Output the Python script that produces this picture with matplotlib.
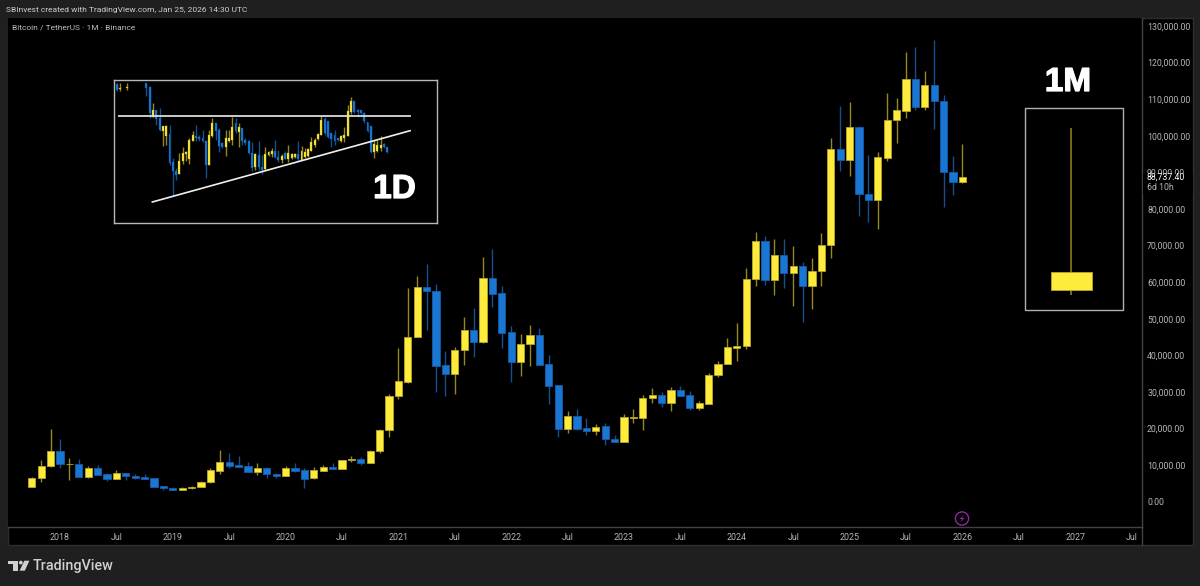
import numpy as np
import matplotlib
matplotlib.use('Agg')
import matplotlib.pyplot as plt
import matplotlib.patheffects as pe
from matplotlib.patches import Rectangle, Circle, Polygon

# BTC/USDT monthly candles, Oct 2017 -> Jan 2026
opens = [4100, 6380, 9760, 13760, 10210, 10390, 6750, 9300, 7480, 6200, 7840, 7020, 6650, 6380, 4200,
         3740, 3290, 3650, 4020, 5290, 8390, 10940, 9940, 9660, 8200, 9120, 7570,
         7115, 9210, 8570, 6380, 8480, 9480, 9030, 11300, 11750, 10660, 13760, 19680,
         28880, 32790, 45000, 58570, 57660, 37260, 34890, 41360, 47000, 43720, 61210, 56930,
         46270, 38260, 42990, 45540, 37620, 31790, 19770, 23320, 20130, 19220, 20590, 17220,
         16310, 22960, 22960, 28330, 29150, 26970, 30430, 29150, 25600, 26790, 34530, 37530,
         42090, 42450, 60850, 71230, 60480, 67400, 62480, 64390, 58840, 63030, 70040, 96270,
         93360, 102370, 84160, 82340, 93900, 104190, 106830, 115580, 107840, 113850, 109460, 90190,
         87280]
highs = [6650, 11400, 19770, 17130, 11850, 11660, 9750, 10030, 7750, 8660, 7930, 7480, 7660, 6560, 4290,
         4020, 4100, 4200, 5650, 9120, 14120, 13220, 12490, 10940, 10480, 9480, 7840,
         9660, 10570, 9210, 9400, 10030, 10480, 11480, 12490, 12120, 14030, 19860, 29330,
         41900, 58290, 61670, 64850, 59480, 41270, 42360, 50460, 52830, 66770, 68950, 58930,
         48000, 45820, 48180, 47450, 39990, 31790, 24780, 25330, 22870, 21140, 21500, 18310,
         24050, 25330, 29150, 30970, 29880, 31340, 31700, 30250, 27510, 35160, 38440, 44630,
         48820, 63850, 73600, 72690, 71860, 71770, 69950, 65490, 66490, 73410, 99370, 108200,
         109300, 102550, 94720, 95540, 111660, 110380, 122880, 124150, 117760, 126050, 111030, 94450,
         97730]
lows = [4100, 5480, 9570, 9200, 6020, 6750, 6570, 7300, 5750, 6110, 5930, 6200, 6200, 3930, 3290,
        3200, 3200, 3560, 3930, 5200, 7480, 9210, 9480, 8020, 7300, 6570, 6570,
        7020, 8200, 3830, 6290, 8290, 8930, 9030, 10760, 9940, 10660, 13300, 17590,
        28150, 32340, 45000, 46910, 30060, 28880, 29330, 37350, 39630, 43450, 53280, 41990,
        32790, 34340, 37080, 37440, 26780, 17590, 18770, 19680, 18130, 18220, 15580, 16310,
        16310, 21500, 19590, 26970, 25870, 24870, 28970, 25150, 24960, 26690, 34160, 37530,
        38530, 41810, 58930, 59210, 56560, 58380, 53470, 49100, 52560, 58930, 66670, 90440,
        89080, 78060, 76420, 74420, 93170, 98110, 104920, 107020, 107020, 101830, 80530, 83810,
        87190]
closes = [6570, 9850, 13760, 10300, 10390, 6750, 9300, 7300, 6200, 7840, 6930, 6475, 6200, 4020, 3650,
          3290, 3740, 4100, 5470, 8570, 10940, 9850, 9480, 8200, 9120, 7570, 7115,
          9210, 8390, 6200, 8570, 9480, 9030, 11390, 11660, 10660, 13940, 19680, 28970,
          32980, 45090, 58570, 57480, 37080, 34890, 41450, 47000, 43720, 61210, 56840, 46090,
          38260, 43180, 45540, 37440, 31610, 19860, 23320, 19950, 19220, 20500, 17040, 16310,
          23140, 23140, 28420, 29150, 26970, 30430, 28970, 25600, 26970, 34620, 37620, 42180,
          42540, 60940, 71230, 60480, 67400, 62480, 64390, 58840, 63120, 70130, 96270, 93450,
          102370, 83970, 82340, 94080, 104370, 106920, 115580, 107840, 113850, 109370, 90100, 87370,
          88737]

# the single candle in the "1M" box, same price scale
box_open, box_high, box_low, box_close = 57960, 102100, 56460, 62750

price_ticks = [0, 10000, 20000, 30000, 40000, 50000, 60000, 70000, 80000, 90000, 100000, 110000, 120000, 130000]
last_price = 88737.40
time_labels = ['2018', 'Jul', '2019', 'Jul', '2020', 'Jul', '2021', 'Jul', '2022', 'Jul', '2023', 'Jul',
               '2024', 'Jul', '2025', 'Jul', '2026', 'Jul', '2027', 'Jul']

# "1D" picture inside the box: heights above the box floor, no real axis to read
nan = float('nan')
d_open = [139, 134, nan, 135, nan, nan, nan, nan, nan, 140, 136, 106, 113, 105, 92, 87, 89, 61, 52, 49, 62, 69, 64, 82, 87, 86, 85, 82, 58, 87, 100, 93,
          80, 76, 82, 83, 100, 91, 95, 83, 82, 70, 56, 68, 56, 54, 68, 69, 72, 66, 63, 70, 64, 65, 66, 69, 63, 66, 67, 72, 78, 84, 88,
          104, 102, 90, 88, 85, 82, 85, 87, 111, 122, 113, 113, 110, 101, 97, 71, 72, 75, 79, 76]
d_high = [140, 140, nan, 140, nan, nan, nan, nan, nan, 140, 137, 120, 113, 115, 97, 98, 98, 65, 55, 70, 76, 72, 85, 92, 98, 88, 93, 83, 93, 105, 100, 95,
          81, 93, 93, 106, 105, 100, 95, 85, 83, 81, 70, 82, 68, 76, 72, 75, 83, 73, 69, 72, 78, 70, 70, 82, 77, 75, 75, 86, 85, 90, 107,
          106, 102, 90, 93, 85, 88, 96, 118, 126, 122, 114, 113, 111, 101, 97, 83, 83, 87, 80, 76]
d_low = [132, 132, nan, 133, nan, nan, nan, nan, nan, 127, 105, 106, 98, 92, 77, 78, 58, 27, 43, 49, 59, 62, 59, 82, 82, 82, 81, 45, 58, 86, 83, 71,
         75, 67, 81, 78, 90, 76, 78, 78, 69, 52, 53, 53, 49, 53, 67, 66, 65, 61, 60, 64, 61, 64, 65, 62, 63, 65, 66, 72, 76, 83, 88,
         88, 85, 76, 78, 82, 81, 81, 87, 109, 110, 106, 109, 100, 91, 70, 65, 71, 72, 75, 70]
d_close = [133, 135, nan, 136, nan, nan, nan, nan, nan, 135, 110, 113, 104, 93, 97, 97, 60, 52, 48, 62, 70, 71, 83, 88, 85, 84, 82, 58, 88, 100, 92, 77,
           76, 85, 85, 96, 92, 96, 82, 80, 70, 55, 69, 56, 53, 69, 71, 72, 66, 63, 67, 64, 70, 69, 69, 64, 72, 71, 74, 81, 83, 89, 103,
           90, 86, 84, 82, 83, 87, 88, 112, 122, 111, 111, 110, 102, 92, 71, 79, 78, 78, 76, 71]
# trendlines in the same inset units
res_x, res_y = [0.7, 88.9], [107, 107]
sup_x, sup_y = [10.8, 88.9], [21, 92.3]

W, H = 1200, 586
UP, DOWN = '#ffeb3b', '#1976d2'
UP_WICK, DOWN_WICK = '#96881f', '#14508f'
TXT = '#b6b6b6'

plt.rcParams['font.family'] = ['Roboto', 'DejaVu Sans']


def candles(axis, x, o, h, l, c, width, wick_lw, edge_lw):
    o, h, l, c = [np.array(v, dtype=float) for v in (o, h, l, c)]
    up = c >= o
    axis.vlines(x, l, h, colors=np.where(up, UP_WICK, DOWN_WICK), linewidth=wick_lw, zorder=2)
    axis.bar(x, c - o, bottom=o, width=width, color=np.where(up, UP, DOWN),
             edgecolor=np.where(up, '#b5a72c', '#155ca8'), linewidth=edge_lw, zorder=3)


def rect_px(x0, y0, x1, y1):
    # pixel box (top-left origin) to figure fractions
    return [x0 / W, 1 - y1 / H, (x1 - x0) / W, (y1 - y0) / H]


fig = plt.figure(figsize=(W / 100, H / 100), dpi=100, facecolor='#1f1f1f')

# background panel and frame
bg = fig.add_axes([0, 0, 1, 1], zorder=0)
bg.set_xlim(0, W)
bg.set_ylim(H, 0)
bg.axis('off')
bg.add_patch(Rectangle((7.5, 18), 1185.5, 527, facecolor='black', edgecolor='#2e2e2e', linewidth=1))
bg.plot([1141.5, 1141.5], [527, 545], color='#434343', linewidth=1)

# main chart, x in months from Jan 2018
ax = fig.add_axes(rect_px(8, 18, 1141.5, 526.5), zorder=1, facecolor='black')
months = np.arange(len(opens)) - 3
candles(ax, months, opens, highs, lows, closes, 0.78, 1.0, 0.6)
ax.set_xlim((8 - 60) / 9.4, (1141.5 - 60) / 9.4)
ax.set_ylim(-(526.5 - 501.7) / 36.6 * 10000, (501.7 - 18) / 36.6 * 10000)

ax.set_xticks(np.arange(len(time_labels)) * 6)
ax.set_xticklabels(time_labels)
ax.yaxis.tick_right()
ax.set_yticks(price_ticks)
ax.set_yticklabels([f'{v:,.2f}' for v in price_ticks])
ax.tick_params(axis='x', length=0, colors=TXT, labelsize=6.4, pad=4.6)
ax.tick_params(axis='y', length=0, colors=TXT, labelsize=6.3, pad=4.0)
for side in ('top', 'left'):
    ax.spines[side].set_visible(False)
for side in ('right', 'bottom'):
    ax.spines[side].set_color('#434343')
    ax.spines[side].set_linewidth(1)

# last price tag sits on top of the 90,000 label
trans = ax.get_yaxis_transform()
ax.add_patch(Rectangle((1.0012, last_price + 900), 0.044, -5500, transform=trans, facecolor='black',
                       edgecolor='none', clip_on=False, zorder=6))
ax.text(1.0047, last_price, f'{last_price:,.2f}', transform=trans, color='#ffffff', fontsize=6.3,
        va='center', ha='left', clip_on=False, zorder=7)
ax.text(1.0047, last_price - 2800, '6d 10h', transform=trans, color=TXT, fontsize=6.3,
        va='center', ha='left', clip_on=False, zorder=7)

# 1M box with the one big candle
ax.add_patch(Rectangle((102.7, 52510), 10.4, 55190, facecolor='black', edgecolor='#b0b0b0', linewidth=1, zorder=2))
candles(ax, [107.6], [box_open], [box_high], [box_low], [box_close], 4.36, 1.1, 0.6)

# 1D inset
ins = fig.add_axes(rect_px(114, 80, 437, 223), zorder=2, facecolor='black')
candles(ins, np.arange(len(d_open)), d_open, d_high, d_low, d_close, 0.55, 1.0, 0.2)
ins.plot(res_x, res_y, color='#dcdcdc', linewidth=1.3, zorder=4)
ins.plot(sup_x, sup_y, color='#f0f0f0', linewidth=1.2, zorder=4)
ins.set_xlim(-0.82, 97.06)
ins.set_ylim(0, 143)
ins.set_xticks([])
ins.set_yticks([])
for s in ins.spines.values():
    s.set_color('#b8b8b8')
    s.set_linewidth(1)

# texts and logo on top, pixel coords
fg = fig.add_axes([0, 0, 1, 1], zorder=3)
fg.set_xlim(0, W)
fg.set_ylim(H, 0)
fg.axis('off')
fg.patch.set_alpha(0)
fg.text(6.5, 10, 'SBInvest created with TradingView.com, Jan 25, 2026 14:30 UTC', color='#cfcfcf',
        fontsize=6.05, va='center', ha='left')
fg.text(12, 28, 'Bitcoin / TetherUS · 1M · Binance', color='#bdbdbd', fontsize=6.05, va='center', ha='left')
thick = [pe.withStroke(linewidth=0.9, foreground='white')]
fg.text(1068, 82.5, '1M', color='white', fontsize=24, fontweight='bold', family='Liberation Sans',
        va='center', ha='center', path_effects=thick)
fg.text(394.5, 189.5, '1D', color='white', fontsize=24, fontweight='bold', family='Liberation Sans',
        va='center', ha='center', path_effects=thick)

# lightning marker
fg.add_patch(Circle((962, 518.5), 6.6, facecolor='none', edgecolor='#8e2aa0', linewidth=1))
fg.add_patch(Polygon([(964, 514.5), (959.5, 519), (962, 519), (960, 522.5), (964.5, 518), (962, 518)],
                     facecolor='#8e2aa0', edgecolor='none'))

# TradingView logo
logo = '#d0d0d0'
fg.add_patch(Polygon([(8, 560.7), (17.5, 560.7), (17.5, 570.7), (12.7, 570.7), (12.7, 564.2), (8, 564.2)],
                     facecolor=logo, edgecolor='none'))
fg.add_patch(Circle((20.8, 562.6), 1.9, facecolor=logo, edgecolor='none'))
fg.add_patch(Polygon([(24.3, 560.7), (29.4, 560.7), (24.8, 570.7), (19.6, 570.7)], facecolor=logo, edgecolor='none'))
fg.text(33, 566, 'TradingView', color='#d0d0d0', fontsize=10.4, fontweight='medium', family='Roboto',
        va='center', ha='left')

fig.savefig('out.png', dpi=100, facecolor=fig.get_facecolor())
